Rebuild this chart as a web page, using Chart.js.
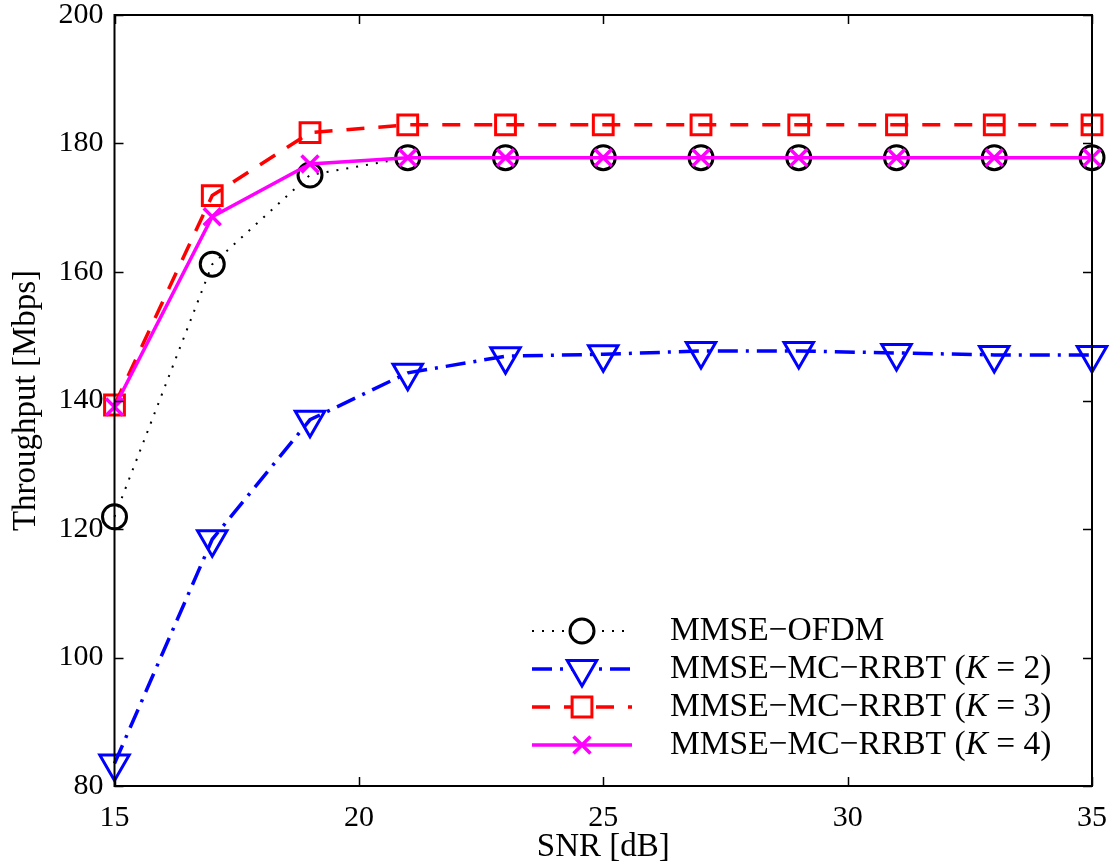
<!DOCTYPE html>
<html>
<head>
<meta charset="utf-8">
<title>Throughput vs SNR</title>
<script src="https://cdn.jsdelivr.net/npm/chart.js@4.4.1/dist/chart.umd.min.js"></script>
<style>
  html, body { margin: 0; padding: 0; background: #fff; }
  #wrap { width: 1116px; height: 867px; }
</style>
</head>
<body>
<div id="wrap"><canvas id="snrChart" width="1116" height="867"></canvas></div>
<script>
// values
const snrValues = [15, 17, 19, 21, 23, 25, 27, 29, 31, 33, 35];
const ofdmData = [121.9, 161.2, 175.1, 177.8, 177.8, 177.8, 177.8, 177.8, 177.8, 177.8, 177.8];
const rrbtK2Data = [83.5, 118.4, 137.0, 144.3, 146.9, 147.2, 147.7, 147.7, 147.4, 147.1, 147.1];
const rrbtK3Data = [139.3, 171.9, 181.7, 182.9, 182.9, 182.9, 182.9, 182.9, 182.9, 182.9, 182.9];
const rrbtK4Data = [139.0, 168.6, 176.8, 177.8, 177.8, 177.8, 177.8, 177.8, 177.8, 177.8, 177.8];
const xTicks = [15, 20, 25, 30, 35];
const yTicks = [80, 100, 120, 140, 160, 180, 200];
const seriesNames = [
  "MMSE\u2212OFDM",
  "MMSE\u2212MC\u2212RRBT (K = 2)",
  "MMSE\u2212MC\u2212RRBT (K = 3)",
  "MMSE\u2212MC\u2212RRBT (K = 4)"
];

const SERIF = "'Liberation Serif', 'Times New Roman', serif";

function toPoints(arr) {
  return arr.map(function (v, i) { return { x: snrValues[i], y: v }; });
}

// box + inward ticks on all four sides (matlab style)
const boxPlugin = {
  id: "boxPlugin",
  afterDatasetsDraw: function (chart) {
    const ctx = chart.ctx;
    const a = chart.chartArea;
    const xs = chart.scales.x, ys = chart.scales.y;
    const tl = 9;
    ctx.save();
    ctx.strokeStyle = "#000";
    ctx.lineWidth = 2;
    ctx.strokeRect(a.left, a.top, a.right - a.left, a.bottom - a.top);
    ctx.lineWidth = 1.5;
    ctx.beginPath();
    xTicks.forEach(function (v) {
      const px = Math.round(xs.getPixelForValue(v)) + 0.5;
      ctx.moveTo(px, a.bottom); ctx.lineTo(px, a.bottom - tl);
      ctx.moveTo(px, a.top); ctx.lineTo(px, a.top + tl);
    });
    yTicks.forEach(function (v) {
      const py = Math.round(ys.getPixelForValue(v)) + 0.5;
      ctx.moveTo(a.left, py); ctx.lineTo(a.left + tl, py);
      ctx.moveTo(a.right, py); ctx.lineTo(a.right - tl, py);
    });
    ctx.stroke();
    ctx.restore();
  }
};

// legend inside the axes, lower right, no frame
const legendPlugin = {
  id: "legendPlugin",
  afterDraw: function (chart) {
    const ctx = chart.ctx;
    const rows = [631, 669, 707, 745];
    const x0 = 532, x1 = 632, xm = 582, xt = 670;
    const fs = "33.5px ";
    ctx.save();
    chart.data.datasets.forEach(function (ds, i) {
      const y = rows[i];
      ctx.strokeStyle = ds.borderColor;
      ctx.lineWidth = ds.borderWidth;
      ctx.setLineDash(ds.borderDash || []);
      ctx.beginPath();
      ctx.moveTo(x0, y);
      ctx.lineTo(x1, y);
      ctx.stroke();
      ctx.setLineDash([]);
      ctx.strokeStyle = ds.pointBorderColor;
      ctx.fillStyle = "#fff";
      ctx.lineWidth = ds.pointBorderWidth;
      Chart.helpers.drawPoint(ctx, {
        pointStyle: ds.pointStyle,
        radius: ds.pointRadius,
        rotation: ds.pointRotation || 0,
        borderWidth: ds.pointBorderWidth
      }, xm, y);

      // label, with italic K
      ctx.fillStyle = "#000";
      ctx.textBaseline = "middle";
      ctx.textAlign = "left";
      const name = ds.label;
      const k = name.indexOf("K");
      ctx.font = fs + SERIF;
      if (k < 0) {
        ctx.fillText(name, xt, y);
      } else {
        const a = name.slice(0, k), b = name.slice(k + 1);
        let x = xt;
        ctx.fillText(a, x, y);
        x += ctx.measureText(a).width;
        ctx.font = "italic " + fs + SERIF;
        ctx.fillText("K", x, y);
        x += ctx.measureText("K").width;
        ctx.font = fs + SERIF;
        ctx.fillText(b, x, y);
      }
    });
    ctx.restore();
  }
};

const ctx = document.getElementById("snrChart");

new Chart(ctx, {
  type: "line",
  data: {
    datasets: [
      {
        label: seriesNames[0],
        data: toPoints(ofdmData),
        borderColor: "#000",
        borderWidth: 2,
        borderDash: [2, 8],
        pointStyle: "circle",
        pointRadius: 12,
        pointBorderWidth: 3,
        pointBorderColor: "#000",
        pointBackgroundColor: "rgba(0,0,0,0)",
        order: 4
      },
      {
        label: seriesNames[1],
        data: toPoints(rrbtK2Data),
        borderColor: "#0000ff",
        borderWidth: 3.5,
        borderDash: [20, 8, 3, 8],
        pointStyle: "triangle",
        pointRotation: 180,
        pointRadius: 17,
        pointBorderWidth: 3,
        pointBorderColor: "#0000ff",
        pointBackgroundColor: "rgba(0,0,0,0)",
        order: 3
      },
      {
        label: seriesNames[2],
        data: toPoints(rrbtK3Data),
        borderColor: "#ff0000",
        borderWidth: 3.5,
        borderDash: [18, 14],
        pointStyle: "rect",
        pointRadius: 14,
        pointBorderWidth: 3,
        pointBorderColor: "#ff0000",
        pointBackgroundColor: "rgba(0,0,0,0)",
        order: 2
      },
      {
        label: seriesNames[3],
        data: toPoints(rrbtK4Data),
        borderColor: "#ff00ff",
        borderWidth: 3.5,
        pointStyle: "cross",
        pointRotation: 45,
        pointRadius: 12,
        pointBorderWidth: 3.5,
        pointBorderColor: "#ff00ff",
        pointBackgroundColor: "rgba(0,0,0,0)",
        order: 1
      }
    ]
  },
  options: {
    responsive: false,
    animation: false,
    clip: false,
    layout: {
      autoPadding: false,
      padding: { left: 0, top: 15, right: 24, bottom: 0 }
    },
    plugins: {
      legend: { display: false },
      tooltip: { enabled: false }
    },
    elements: { line: { tension: 0 } },
    scales: {
      x: {
        type: "linear",
        min: 15,
        max: 35,
        afterBuildTicks: function (scale) {
          scale.ticks = xTicks.map(function (v) { return { value: v }; });
        },
        afterFit: function (scale) {
          scale.height = 81;
          scale.paddingLeft = 0;
          scale.paddingRight = 0;
        },
        grid: { display: false, drawTicks: false },
        border: { display: false },
        ticks: {
          color: "#000",
          padding: 14,
          maxRotation: 0,
          font: { family: SERIF, size: 30 }
        },
        title: {
          display: true,
          text: "SNR [dB]",
          color: "#000",
          padding: { top: 0, bottom: 0 },
          font: { family: SERIF, size: 33 }
        }
      },
      y: {
        min: 80,
        max: 200,
        afterBuildTicks: function (scale) {
          scale.ticks = yTicks.map(function (v) { return { value: v }; });
        },
        afterFit: function (scale) {
          scale.width = 114.5;
          scale.paddingTop = 0;
          scale.paddingBottom = 0;
        },
        grid: { display: false, drawTicks: false },
        border: { display: false },
        ticks: {
          color: "#000",
          padding: 11,
          font: { family: SERIF, size: 30 }
        },
        title: {
          display: true,
          text: "Throughput [Mbps]",
          color: "#000",
          padding: { top: 7, bottom: 0 },
          font: { family: SERIF, size: 33 }
        }
      }
    }
  },
  plugins: [boxPlugin, legendPlugin]
});
</script>
</body>
</html>
